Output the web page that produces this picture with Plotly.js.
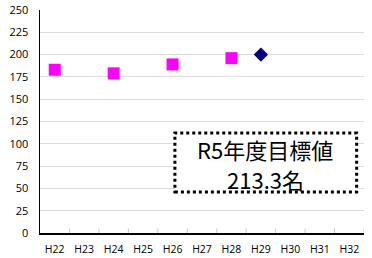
<!DOCTYPE html>
<html><head><meta charset="utf-8">
<script src="https://cdn.plot.ly/plotly-3.0.1.min.js"></script>
<style>html,body{margin:0;padding:0;background:#fff}#c{width:372px;height:258px}</style>
</head><body><div id="c"></div>
<script>
const categories = ["H22","H23","H24","H25","H26","H27","H28","H29","H30","H31","H32"];
const actualYears = ["H22","H24","H26","H28"];
const actualValues = [183, 179, 189, 196];
const targetYears = ["H29"];
const targetValues = [200];
const yTicks = [0,25,50,75,100,125,150,175,200,225,250];
const noteLines = ["R5年度目標値", "213.3名"];

const data = [
  {x: actualYears, y: actualValues, type: "scatter", mode: "markers",
   marker: {symbol: "square", size: 12, color: "#ff00ff"}, hoverinfo: "skip"},
  {x: targetYears, y: targetValues, type: "scatter", mode: "markers",
   marker: {symbol: "diamond", size: 11, color: "#000080"}, hoverinfo: "skip"}
];
const layout = {
  width: 372, height: 258,
  margin: {l: 40, r: 7.5, t: 10, b: 25},
  paper_bgcolor: "#fff", plot_bgcolor: "#fff",
  showlegend: false,
  font: {family: "Open Sans, Liberation Sans, sans-serif", size: 11, color: "#000"},
  xaxis: {type: "category", categoryarray: categories, categoryorder: "array",
    range: [-0.5, 10.5], showgrid: false, showline: true, linecolor: "#000", linewidth: 1.5,
    ticks: "", tickfont: {size: 10.5}, ticklabelstandoff: 6, fixedrange: true, zeroline: false},
  yaxis: {range: [0, 250], tickvals: yTicks, showgrid: true, gridcolor: "#dcdcdc", gridwidth: 1,
    showline: true, linecolor: "#000", linewidth: 1.5, ticks: "", ticklen: 0,
    tickfont: {size: 11}, ticklabelstandoff: 8, zeroline: false, fixedrange: true},
  shapes: [
    {type: "rect", xref: "x", yref: "y", x0: 4.08, x1: 10.25, y0: 46, y1: 112,
     fillcolor: "#fff", line: {color: "#000", width: 3, dash: "dot"}, layer: "above"}
  ],
  annotations: [
    {xref: "x", yref: "y", x: 7.15, y: 94, text: noteLines[0], showarrow: false,
     font: {family: "Noto Sans CJK JP", size: 22, color: "#000"}},
    {xref: "x", yref: "y", x: 7.15, y: 61, text: noteLines[1], showarrow: false,
     font: {family: "Noto Sans CJK JP", size: 22, color: "#000"}}
  ]
};
// inner ticks between categories
for (let i = 0; i < categories.length; i++) {
  layout.shapes.push({type: "line", xref: "x", yref: "paper", x0: i + 0.5, x1: i + 0.5, y0: 0, y1: 0.02,
    line: {color: "#c8c8c8", width: 1}});
}
Plotly.newPlot("c", data, layout, {staticPlot: true, displayModeBar: false});
</script></body></html>
